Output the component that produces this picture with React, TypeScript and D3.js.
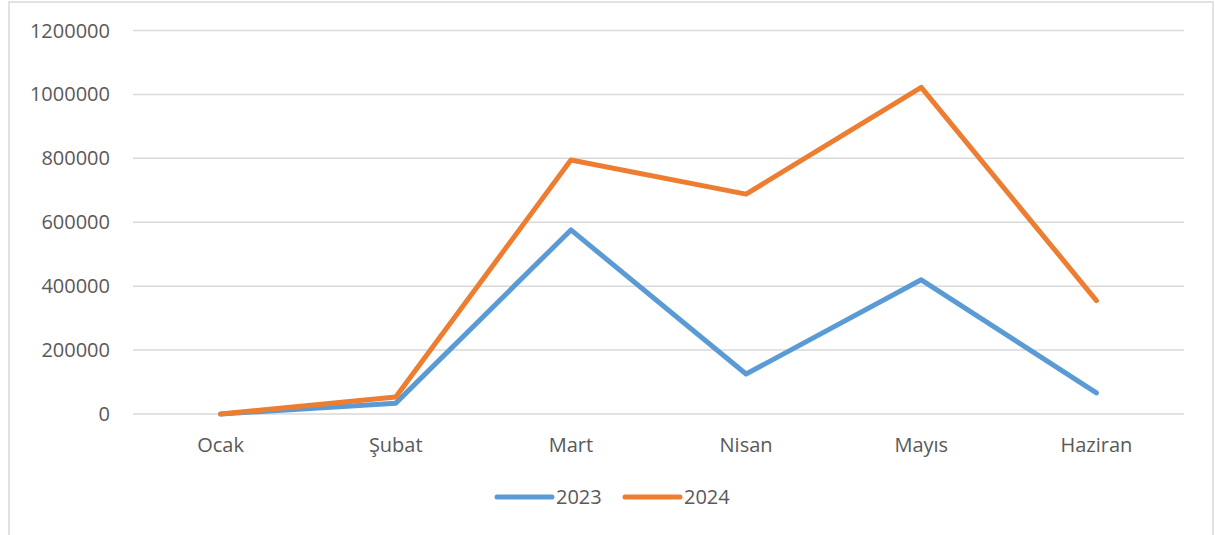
import React from "react";
import * as d3 from "d3";

const months = ["Ocak", "Şubat", "Mart", "Nisan", "Mayıs", "Haziran"];
const series2023 = [0, 34000, 576000, 125000, 420000, 66000];
const series2024 = [0, 53000, 795000, 688000, 1022000, 355000];
const yTicks = [0, 200000, 400000, 600000, 800000, 1000000, 1200000];
const seriesNames = ["2023", "2024"];
const colors = ["#5B9BD5", "#ED7D31"];

const W = 1215;
const H = 535;
const plotLeft = 133;
const plotRight = 1184;
const plotTop = 30.5;
const plotBottom = 414;
const font = "'Open Sans', 'Noto Sans', sans-serif";
const textColor = "#595959";

export default function App() {
  const x = d3.scaleBand<string>().domain(months).range([plotLeft, plotRight]);
  const y = d3.scaleLinear().domain([0, 1200000]).range([plotBottom, plotTop]);
  const line = d3
    .line<number>()
    .x((_, i) => (x(months[i]) as number) + x.bandwidth() / 2)
    .y((d) => y(d));
  const data = [series2023, series2024];

  const legendItems = [
    { lx: 497, tx: 556 },
    { lx: 625, tx: 684 },
  ];

  return (
    <svg
      width={W}
      height={H}
      style={{ position: "absolute", left: 0, top: 0, background: "#fff" }}
    >
      <rect x={9} y={2} width={1204} height={560} fill="#fff" stroke="#D9D9D9" strokeWidth={1.5} />
      {yTicks.map((t) => (
        <g key={t}>
          <line x1={plotLeft} x2={plotRight} y1={y(t)} y2={y(t)} stroke="#D9D9D9" strokeWidth={1.5} />
          <text
            x={110}
            y={y(t)}
            dy="0.35em"
            textAnchor="end"
            fontFamily={font}
            fontSize={20}
            fill={textColor}
          >
            {t}
          </text>
        </g>
      ))}
      {months.map((m) => (
        <text
          key={m}
          x={(x(m) as number) + x.bandwidth() / 2}
          y={445}
          dy="0.35em"
          textAnchor="middle"
          fontFamily={font}
          fontSize={20}
          fill={textColor}
        >
          {m}
        </text>
      ))}
      {data.map((s, i) => (
        <path
          key={i}
          d={line(s) as string}
          fill="none"
          stroke={colors[i]}
          strokeWidth={5}
          strokeLinecap="round"
          strokeLinejoin="round"
        />
      ))}
      {legendItems.map((it, i) => (
        <g key={i}>
          <line
            x1={it.lx}
            x2={it.lx + 55}
            y1={497}
            y2={497}
            stroke={colors[i]}
            strokeWidth={5}
            strokeLinecap="round"
          />
          <text x={it.tx} y={497} dy="0.35em" fontFamily={font} fontSize={20} fill={textColor}>
            {seriesNames[i]}
          </text>
        </g>
      ))}
    </svg>
  );
}
